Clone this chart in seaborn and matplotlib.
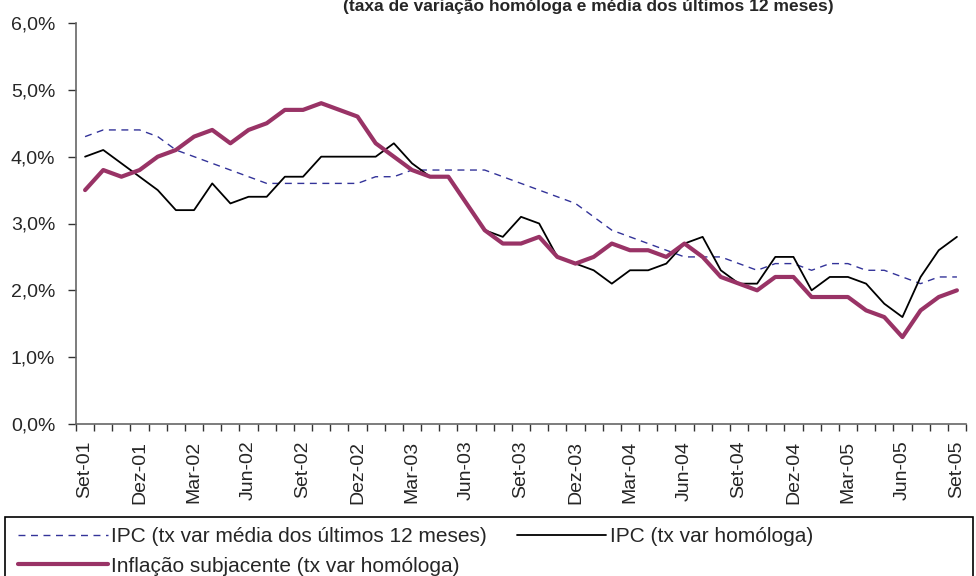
import matplotlib
matplotlib.use("Agg")
import matplotlib.pyplot as plt
from matplotlib.lines import Line2D
from matplotlib.patches import Rectangle
from matplotlib.ticker import FixedLocator, FuncFormatter
import pandas as pd
import seaborn as sns

# monthly data, Set-01 .. Set-05
meses = ["Jan", "Fev", "Mar", "Abr", "Mai", "Jun", "Jul", "Ago", "Set", "Out", "Nov", "Dez"]
datas = [f"{meses[(8 + k) % 12]}-{(2001 + (8 + k) // 12) % 100:02d}" for k in range(49)]

ipc_media = [4.3, 4.4, 4.4, 4.4, 4.3, 4.1, 4.0, 3.9, 3.8, 3.7, 3.6, 3.6, 3.6,
             3.6, 3.6, 3.6, 3.7, 3.7, 3.8, 3.8, 3.8, 3.8, 3.8, 3.7, 3.6,
             3.5, 3.4, 3.3, 3.1, 2.9, 2.8, 2.7, 2.6, 2.5, 2.5, 2.5, 2.4,
             2.3, 2.4, 2.4, 2.3, 2.4, 2.4, 2.3, 2.3, 2.2, 2.1, 2.2, 2.2]
ipc_homologa = [4.0, 4.1, 3.9, 3.7, 3.5, 3.2, 3.2, 3.6, 3.3, 3.4, 3.4, 3.7, 3.7,
                4.0, 4.0, 4.0, 4.0, 4.2, 3.9, 3.7, 3.7, 3.3, 2.9, 2.8, 3.1,
                3.0, 2.5, 2.4, 2.3, 2.1, 2.3, 2.3, 2.4, 2.7, 2.8, 2.3, 2.1,
                2.1, 2.5, 2.5, 2.0, 2.2, 2.2, 2.1, 1.8, 1.6, 2.2, 2.6, 2.8]
inflacao_subj = [3.5, 3.8, 3.7, 3.8, 4.0, 4.1, 4.3, 4.4, 4.2, 4.4, 4.5, 4.7, 4.7,
                 4.8, 4.7, 4.6, 4.2, 4.0, 3.8, 3.7, 3.7, 3.3, 2.9, 2.7, 2.7,
                 2.8, 2.5, 2.4, 2.5, 2.7, 2.6, 2.6, 2.5, 2.7, 2.5, 2.2, 2.1,
                 2.0, 2.2, 2.2, 1.9, 1.9, 1.9, 1.7, 1.6, 1.3, 1.7, 1.9, 2.0]

lbl_media = "IPC (tx var média dos últimos 12 meses)"
lbl_homol = "IPC (tx var homóloga)"
lbl_subj = "Inflação subjacente (tx var homóloga)"

df = pd.DataFrame({"pos": range(len(datas)), "data": datas,
                   "media": ipc_media, "homologa": ipc_homologa, "subj": inflacao_subj})

sns.set_style("white")
plt.rcParams["font.family"] = ["Liberation Sans", "DejaVu Sans"]

fig = plt.figure(figsize=(9.76, 5.76), dpi=100)
ax = fig.add_axes([76 / 976, (576 - 424) / 576, 890 / 976, 401 / 576])

sns.lineplot(data=df, x="pos", y="media", ax=ax, color="#333399", lw=1.0,
             dashes=False, linestyle=(0, (5, 4)))
sns.lineplot(data=df, x="pos", y="homologa", ax=ax, color="black", lw=1.3)
sns.lineplot(data=df, x="pos", y="subj", ax=ax, color="#993366", lw=3.0)

ax.set_xlim(-0.5, len(datas) - 0.5)
ax.set_ylim(0, 6)
ax.set_xlabel("")
ax.set_ylabel("")

# labels every 3 months at the points, ticks on category borders
lab_pos = list(range(0, len(datas), 3))
ax.xaxis.set_major_locator(FixedLocator(lab_pos))
ax.set_xticklabels([datas[p] for p in lab_pos], rotation=90, fontsize=14)
ax.xaxis.set_minor_locator(FixedLocator([p - 0.5 for p in range(len(datas) + 1)]))
ax.tick_params(axis="x", which="major", length=0, pad=12)
ax.tick_params(axis="x", which="minor", length=5, width=1, color="#333333", direction="out", bottom=True)

ax.yaxis.set_major_locator(FixedLocator([0, 1, 2, 3, 4, 5, 6]))
ax.yaxis.set_major_formatter(FuncFormatter(lambda v, p: f"{v:.1f}%".replace(".", ",")))
ax.tick_params(axis="y", length=6, width=1, color="#333333", direction="out", left=True,
               labelsize=14, pad=9)

for s in ["top", "right"]:
    ax.spines[s].set_visible(False)
for s in ["left", "bottom"]:
    ax.spines[s].set_color("#666666")
    ax.spines[s].set_linewidth(1.2)

# title is partly cut by the top of the image, as in the source
fig.text(588 / 976, 1 - 11 / 576, "(taxa de variação homóloga e média dos últimos 12 meses)",
         ha="center", va="baseline", fontsize=12.5, fontweight="bold")

# legend box running off the right and bottom edges
fig.patches.append(Rectangle((5 / 976, -0.05), 0.992, 0.05 + (576 - 517) / 576,
                             transform=fig.transFigure, fill=False, edgecolor="black", lw=1.2))
handles = [
    Line2D([], [], color="#333399", lw=1.0, linestyle=(0, (5, 4))),
    Line2D([], [], color="#993366", lw=3.0),
    Line2D([], [], color="black", lw=1.3),
]
fig.legend(handles, [lbl_media, lbl_subj, lbl_homol], ncol=2, loc="upper left",
           bbox_to_anchor=(14 / 976, 1 - 523 / 576), frameon=False, fontsize=15,
           handlelength=4.3, handletextpad=0.15, columnspacing=1.45, labelspacing=0.5,
           borderaxespad=0, borderpad=0.2)

fig.savefig("out.png", dpi=100)
